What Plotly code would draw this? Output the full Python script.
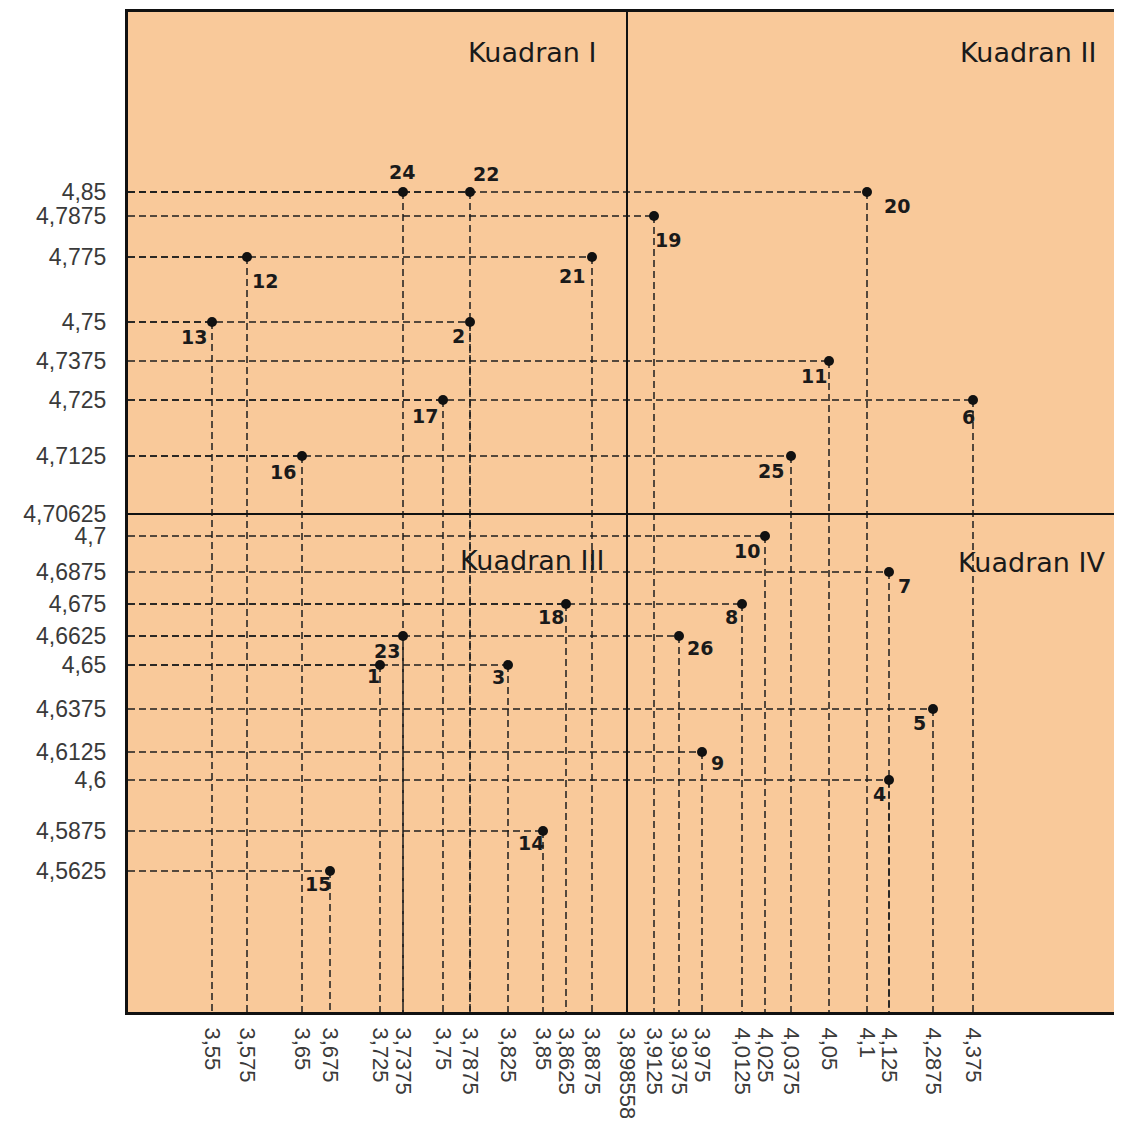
import numpy as np
import plotly.graph_objects as go

# ---------------- data ----------------
point_ids = [24, 22, 20, 19, 12, 21, 13, 2, 11, 17, 6, 16, 25,
             10, 7, 18, 8, 23, 26, 1, 3, 5, 9, 4, 14, 15]
x_vals = [3.7375, 3.7875, 4.1, 3.9125, 3.575, 3.8875, 3.55, 3.7875, 4.05, 3.75, 4.375, 3.65, 4.0375,
          4.025, 4.125, 3.8625, 4.0125, 3.7375, 3.9375, 3.725, 3.825, 4.2875, 3.975, 4.125, 3.85, 3.675]
y_vals = [4.85, 4.85, 4.85, 4.7875, 4.775, 4.775, 4.75, 4.75, 4.7375, 4.725, 4.725, 4.7125, 4.7125,
          4.7, 4.6875, 4.675, 4.675, 4.6625, 4.6625, 4.65, 4.65, 4.6375, 4.6125, 4.6, 4.5875, 4.5625]

x_tick_values = [3.55, 3.575, 3.65, 3.675, 3.725, 3.7375, 3.75, 3.7875, 3.825, 3.85, 3.8625, 3.8875,
                 3.898558, 3.9125, 3.9375, 3.975, 4.0125, 4.025, 4.0375, 4.05, 4.1, 4.125, 4.2875, 4.375]
x_tick_labels = ["3,55", "3,575", "3,65", "3,675", "3,725", "3,7375", "3,75", "3,7875", "3,825", "3,85",
                 "3,8625", "3,8875", "3,898558", "3,9125", "3,9375", "3,975", "4,0125", "4,025", "4,0375",
                 "4,05", "4,1", "4,125", "4,2875", "4,375"]
y_tick_values = [4.85, 4.7875, 4.775, 4.75, 4.7375, 4.725, 4.7125, 4.70625, 4.7, 4.6875, 4.675, 4.6625,
                 4.65, 4.6375, 4.6125, 4.6, 4.5875, 4.5625]
y_tick_labels = ["4,85", "4,7875", "4,775", "4,75", "4,7375", "4,725", "4,7125", "4,70625", "4,7", "4,6875",
                 "4,675", "4,6625", "4,65", "4,6375", "4,6125", "4,6", "4,5875", "4,5625"]

x_mid = 3.898558
y_mid = 4.70625
quadrant_names = ["Kuadran I", "Kuadran II", "Kuadran III", "Kuadran IV"]

# ---------------- style / layout (non-linear axis positions) ----------------
# the original chart spaces its ticks unevenly: tick positions along the axes (plot units)
x_tick_pos = [84, 119, 174, 202, 252, 275, 315, 342, 380, 415, 438, 464,
              499, 526, 551, 574, 614, 637, 663, 701, 739, 761, 805, 845]
y_tick_pos = [180, 204, 245, 310, 349, 388, 444, 502, 524, 560, 592, 624,
              653, 697, 740, 768, 819, 859]
X_RANGE = [0, 994]
Y_RANGE = [1000, 0]
label_offsets = [(-1, -20), (16, -18), (30, 14), (14, 24), (18, 24), (-20, 19), (-18, 15), (-12, 14),
                 (-15, 15), (-18, 16), (-5, 17), (-19, 16), (-20, 15), (-18, 15), (15, 14), (-15, 13),
                 (-11, 13), (-16, 15), (21, 12), (-7, 11), (-10, 12), (-14, 14), (15, 11), (-10, 14),
                 (-12, 12), (-12, 13)]
quadrant_pos = [(404, 40), (900, 40), (404, 548), (903, 550)]

BG = "#F9C99A"
DASH = "7px,4px"


def sx(v):
    return np.interp(v, x_tick_values, x_tick_pos)


def sy(v):
    return np.interp(v, y_tick_values[::-1], y_tick_pos[::-1])


px = sx(np.array(x_vals))
py = sy(np.array(y_vals))

# dashed guide lines: horizontal from y-axis to point, vertical from point to x-axis
hx, hy, vx, vy = [], [], [], []
for a, b in zip(px, py):
    hx += [X_RANGE[0], a, None]
    hy += [b, b, None]
    vx += [a, a, None]
    vy += [b, Y_RANGE[0], None]

fig = go.Figure()
fig.add_trace(go.Scatter(x=hx, y=hy, mode="lines",
                         line=dict(color="#1e1e1e", width=1.5, dash=DASH),
                         hoverinfo="skip", showlegend=False))
fig.add_trace(go.Scatter(x=vx, y=vy, mode="lines",
                         line=dict(color="#1e1e1e", width=1.5, dash=DASH),
                         hoverinfo="skip", showlegend=False))
fig.add_trace(go.Scatter(x=px, y=py, mode="markers",
                         marker=dict(color="#111111", size=10),
                         text=[str(i) for i in point_ids], showlegend=False))

# quadrant dividers
xm = float(sx(x_mid))
ym = float(sy(y_mid))
fig.add_shape(type="line", x0=xm, x1=xm, y0=Y_RANGE[1], y1=Y_RANGE[0],
              xref="x", yref="y", line=dict(color="#111111", width=2))
fig.add_shape(type="line", x0=X_RANGE[0], x1=X_RANGE[1], y0=ym, y1=ym,
              xref="x", yref="y", line=dict(color="#111111", width=2))

# point labels
for pid, a, b, (dx, dy) in zip(point_ids, px, py, label_offsets):
    fig.add_annotation(x=a, y=b, text=str(pid), showarrow=False,
                       xshift=dx, yshift=-dy,
                       font=dict(family="DejaVu Sans", size=19, color="#1a1a1a", weight="bold"))

# quadrant names
for name, (qx, qy) in zip(quadrant_names, quadrant_pos):
    fig.add_annotation(x=qx, y=qy, text=name, showarrow=False,
                       font=dict(family="DejaVu Sans", size=27, color="#1a1a1a"))

# page body has an 8px margin: size the figure so the plot lands where the reference has it
fig.update_layout(
    width=1114, height=1110,
    margin=dict(l=120, r=0, t=4, b=106),
    paper_bgcolor="white", plot_bgcolor=BG,
    showlegend=False,
)
fig.update_xaxes(range=X_RANGE, tickmode="array", tickvals=x_tick_pos, ticktext=x_tick_labels,
                 tickangle=90, showgrid=False, zeroline=False, automargin=False,
                 showline=True, linecolor="#111111", linewidth=3, mirror=True,
                 ticks="", ticklabelstandoff=8,
                 tickfont=dict(family="Liberation Sans", size=22, color="#3a3a3a"))
fig.update_yaxes(range=Y_RANGE, tickmode="array", tickvals=y_tick_pos, ticktext=y_tick_labels,
                 showgrid=False, zeroline=False, automargin=False,
                 showline=True, linecolor="#111111", linewidth=3,
                 ticks="", ticklabelstandoff=14,
                 tickfont=dict(family="Liberation Sans", size=23, color="#3a3a3a"))

fig.write_html("out.html")
